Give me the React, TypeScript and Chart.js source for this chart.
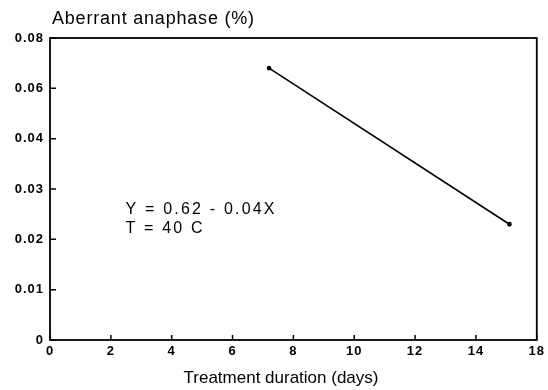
import React, { useEffect, useRef } from "react";
import { Chart, registerables } from "chart.js";

Chart.register(...registerables);

const days = [7.2, 15.1];
const aberrant = [0.054, 0.023];
const xTickValues = [0, 2, 4, 6, 8, 10, 12, 14, 16];
const xTickLabels = ["0", "2", "4", "6", "8", "10", "12", "14", "18"];
const yTickValues = [0, 0.01, 0.02, 0.03, 0.04, 0.05, 0.06];
const yTickLabels = ["0", "0.01", "0.02", "0.03", "0.04", "0.06", "0.08"];
const yTitle = "Aberrant anaphase (%)";
const xTitle = "Treatment duration (days)";
const noteLines = ["Y = 0.62 - 0.04X", "T = 40 C"];
const notePos = { x: 2.48, y: 0.026 };

const FONT = "'Liberation Sans', Arial, sans-serif";

function labelFor(values: number[], labels: string[], v: number) {
  for (let i = 0; i < values.length; i++) {
    if (Math.abs(values[i] - v) < 1e-9) return labels[i];
  }
  return "";
}

export default function App() {
  const ref = useRef<HTMLCanvasElement | null>(null);

  useEffect(() => {
    if (!ref.current) return;
    const framePlugin = {
      id: "frame",
      beforeDraw(chart: any) {
        (chart.ctx as any).letterSpacing = "1px";
      },
      afterDraw(chart: any) {
        const ctx = chart.ctx as CanvasRenderingContext2D;
        const { left, right, top, bottom } = chart.chartArea;
        const xs = chart.scales.x;
        const ys = chart.scales.y;
        ctx.save();
        ctx.strokeStyle = "#000";
        ctx.lineWidth = 1.8;
        ctx.strokeRect(left, top, right - left, bottom - top);
        ctx.lineWidth = 1.5;
        ctx.beginPath();
        xTickValues.forEach((v) => {
          const px = xs.getPixelForValue(v);
          ctx.moveTo(px, bottom);
          ctx.lineTo(px, bottom - 5);
        });
        yTickValues.forEach((v) => {
          const py = ys.getPixelForValue(v);
          ctx.moveTo(left, py);
          ctx.lineTo(left + 6, py);
        });
        ctx.stroke();

        ctx.fillStyle = "#000";
        ctx.textBaseline = "middle";
        ctx.textAlign = "left";
        (ctx as any).letterSpacing = "0.8px";
        ctx.font = `18px ${FONT}`;
        ctx.fillText(yTitle, left + 2, top - 19);
        (ctx as any).letterSpacing = "0px";
        ctx.textAlign = "center";
        ctx.font = `17px ${FONT}`;
        ctx.fillText(xTitle, 281, bottom + 38);
        ctx.textAlign = "left";
        ctx.font = `16px ${FONT}`;
        (ctx as any).letterSpacing = "2.2px";
        const nx = xs.getPixelForValue(notePos.x);
        const ny = ys.getPixelForValue(notePos.y);
        noteLines.forEach((t, i) => ctx.fillText(t, nx, ny + i * 19));
        ctx.restore();
      },
    };

    const chart = new Chart(ref.current, {
      type: "scatter",
      data: {
        datasets: [
          {
            data: days.map((d, i) => ({ x: d, y: aberrant[i] })),
            showLine: true,
            borderColor: "#000",
            backgroundColor: "#000",
            borderWidth: 1.6,
            pointRadius: 1.6,
          },
        ],
      },
      options: {
        animation: false,
        responsive: false,
        devicePixelRatio: 1,
        layout: { padding: { top: 38, right: 8, left: 0, bottom: 0 } },
        plugins: { legend: { display: false }, tooltip: { enabled: false } },
        scales: {
          x: {
            type: "linear",
            min: 0,
            max: 16,
            afterFit: (s: any) => {
              s.height = 50;
            },
            afterBuildTicks: (s: any) => {
              s.ticks = xTickValues.map((v) => ({ value: v }));
            },
            grid: { display: false, drawTicks: false },
            border: { display: false },
            ticks: {
              padding: 4,
              color: "#000",
              font: { family: FONT, size: 13, weight: "bold" },
              callback: (v: any) => labelFor(xTickValues, xTickLabels, Number(v)),
              maxRotation: 0,
              autoSkip: false,
            },
          },
          y: {
            type: "linear",
            min: 0,
            max: 0.06,
            afterFit: (s: any) => {
              s.width = 50;
            },
            afterBuildTicks: (s: any) => {
              s.ticks = yTickValues.map((v) => ({ value: v }));
            },
            grid: { display: false, drawTicks: false },
            border: { display: false },
            ticks: {
              padding: 6,
              color: "#000",
              font: { family: FONT, size: 13, weight: "bold" },
              callback: (v: any) => labelFor(yTickValues, yTickLabels, Number(v)),
              autoSkip: false,
            },
          },
        },
      },
      plugins: [framePlugin],
    } as any);
    return () => chart.destroy();
  }, []);

  return (
    <div style={{ position: "fixed", left: 0, top: 0, width: 548, height: 390, background: "#fff" }}>
      <canvas ref={ref} width={548} height={390} />
    </div>
  );
}
